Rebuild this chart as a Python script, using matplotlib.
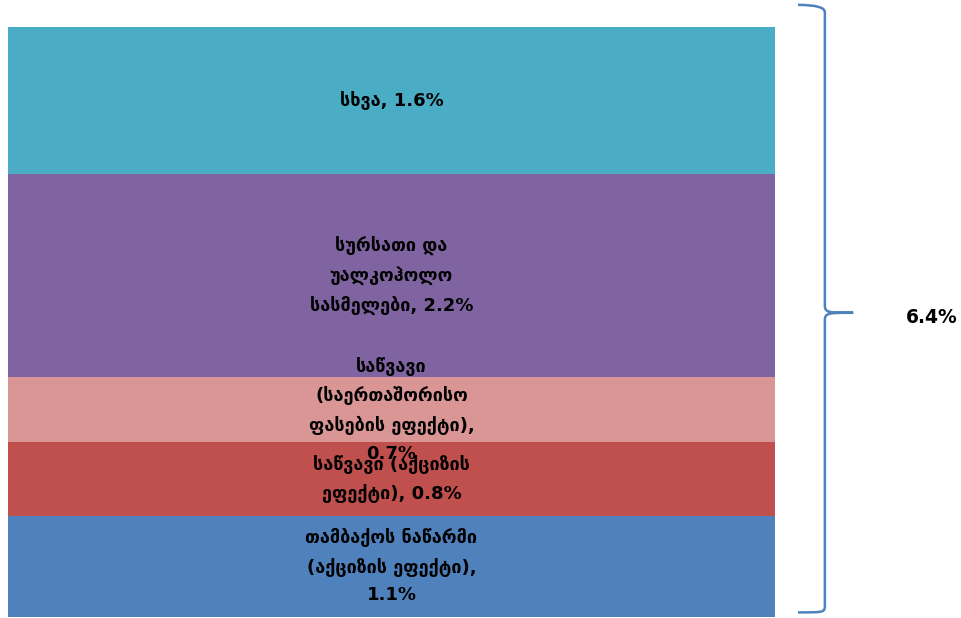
import matplotlib.pyplot as plt
from matplotlib.path import Path
from matplotlib.patches import PathPatch
import matplotlib.transforms as mtransforms
import numpy as np

# segments, bottom to top
labels = [
    "თამბაქოს ნაწარმი\n(აქციზის ეფექტი),\n1.1%",
    "საწვავი (აქციზის\nეფექტი), 0.8%",
    "საწვავი\n(საერთაშორისო\nფასების ეფექტი),\n0.7%",
    "სურსათი და\nუალკოჰოლო\nსასმელები, 2.2%",
    "სხვა, 1.6%",
]
values = [1.1, 0.8, 0.7, 2.2, 1.6]
colors = ["#4F81BD", "#C0504D", "#D99694", "#8064A2", "#4BACC6"]
total_label = "6.4%"

plt.rcParams["font.family"] = ["DejaVu Sans"]

fig = plt.figure(figsize=(9.62, 6.18), dpi=100)
ax = fig.add_axes([8 / 962, 1 / 618, 767 / 962, 590 / 618])

total = sum(values)
bottoms = np.concatenate([[0], np.cumsum(values)[:-1]])
ax.bar([0] * len(values), values, bottom=bottoms, color=colors, width=1.0)
for b, v, lab in zip(bottoms, values, labels):
    ax.text(0, b + v / 2, lab, ha="center", va="center", fontsize=13,
            fontweight="bold", linespacing=1.7, color="black")

ax.set_xlim(-0.5, 0.5)
ax.set_ylim(0, total)
ax.axis("off")

# brace on the right, x in axes fraction, y in data
tr = mtransforms.blended_transform_factory(ax.transAxes, ax.transData)
y0, y1 = 0.05, total + 0.24
ym = (y0 + y1) / 2 - 0.045
xa, xb, xt = 1.030, 1.065, 1.102
c = 0.08
verts = [
    (xa, y1), (xb, y1), (xb, y1 - c),
    (xb, ym + c),
    (xb, ym), (xb + 0.005, ym), (xt, ym),
    (xb + 0.005, ym), (xb, ym), (xb, ym - c),
    (xb, y0 + c),
    (xb, y0), (xb, y0), (xa, y0),
]
codes = [Path.MOVETO, Path.CURVE3, Path.CURVE3,
         Path.LINETO,
         Path.CURVE4, Path.CURVE4, Path.CURVE4,
         Path.CURVE4, Path.CURVE4, Path.CURVE4,
         Path.LINETO,
         Path.CURVE4, Path.CURVE4, Path.CURVE4]
brace = PathPatch(Path(verts, codes), transform=tr, fill=False,
                  edgecolor="#4F81BD", lw=1.8, clip_on=False)
ax.add_patch(brace)
ax.text(1.204, ym - 0.05, total_label, transform=tr, ha="center", va="center",
        fontsize=13.5, fontweight="bold", clip_on=False)

plt.savefig("out.png", dpi=100)
